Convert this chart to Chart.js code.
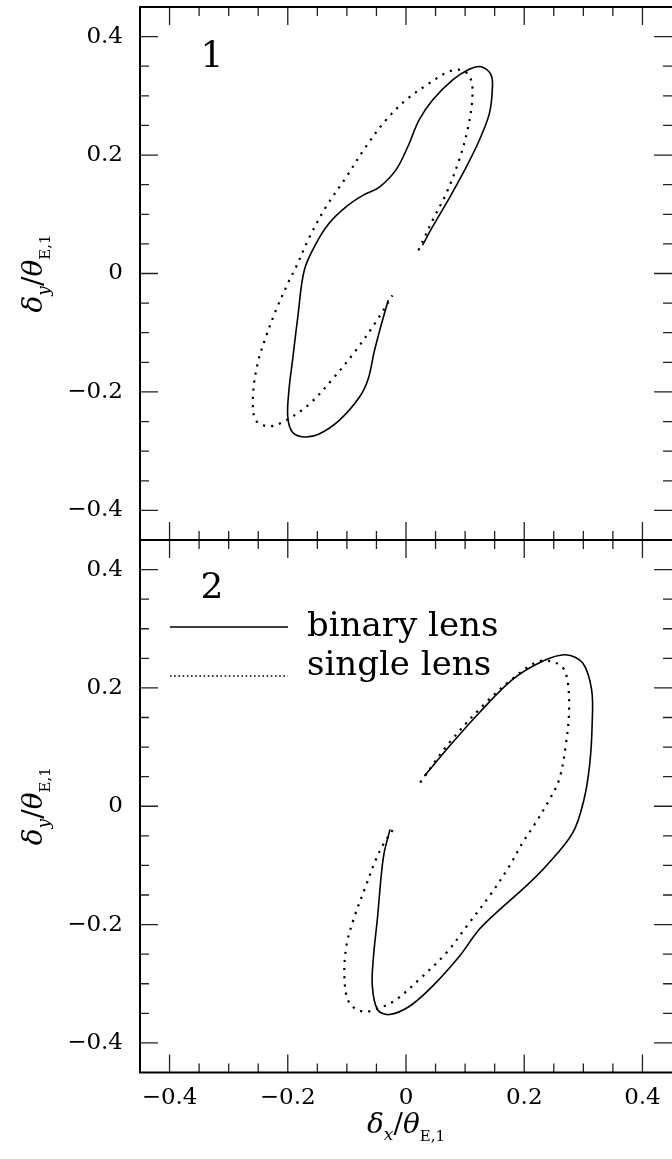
<!DOCTYPE html>
<html>
<head>
<meta charset="utf-8">
<script src="https://cdn.jsdelivr.net/npm/chart.js@4.4.1/dist/chart.umd.min.js"></script>
<style>
  html, body { margin: 0; padding: 0; background: #fff; overflow: hidden; }
  #wrap { position: relative; width: 672px; height: 1159px; }
  canvas { position: absolute; left: 0; }
  #panel1 { top: 0; }
  #panel2 { top: 535px; }
</style>
</head>
<body>
<div id="wrap">
  <canvas id="panel1" width="672" height="545"></canvas>
  <canvas id="panel2" width="672" height="624"></canvas>
</div>
<script>
// panel 1 : astrometric centroid shift, binary vs single lens
const binary1X = [0.028, 0.045, 0.073, 0.101, 0.124, 0.141, 0.146, 0.144, 0.127, 0.107, 0.079, 0.045, 0.022, 0.003, -0.017, -0.045, -0.073, -0.101, -0.130, -0.152, -0.172, -0.183, -0.192, -0.198, -0.200, -0.192, -0.172, -0.147, -0.113, -0.079, -0.064, -0.054, -0.042, -0.030];
const binary1Y = [0.048, 0.079, 0.127, 0.178, 0.225, 0.270, 0.310, 0.335, 0.349, 0.345, 0.327, 0.293, 0.259, 0.214, 0.175, 0.146, 0.132, 0.113, 0.085, 0.051, 0.006, -0.073, -0.147, -0.197, -0.242, -0.268, -0.276, -0.271, -0.248, -0.209, -0.178, -0.133, -0.087, -0.045];
const single1X = [0.021, 0.045, 0.068, 0.090, 0.104, 0.112, 0.110, 0.096, 0.073, 0.039, 0.000, -0.034, -0.068, -0.101, -0.135, -0.163, -0.186, -0.200, -0.220, -0.237, -0.251, -0.259, -0.254, -0.231, -0.203, -0.163, -0.124, -0.085, -0.051, -0.023];
const single1Y = [0.039, 0.090, 0.135, 0.192, 0.242, 0.293, 0.327, 0.343, 0.341, 0.321, 0.293, 0.259, 0.214, 0.163, 0.113, 0.062, 0.011, -0.017, -0.062, -0.107, -0.152, -0.209, -0.248, -0.258, -0.248, -0.220, -0.178, -0.130, -0.082, -0.037];

// panel 2
const binary2X = [0.031, 0.073, 0.124, 0.180, 0.231, 0.270, 0.299, 0.314, 0.315, 0.311, 0.301, 0.282, 0.237, 0.203, 0.158, 0.124, 0.090, 0.045, 0.006, -0.028, -0.048, -0.057, -0.055, -0.048, -0.042, -0.037, -0.027];
const binary2Y = [0.051, 0.101, 0.158, 0.214, 0.245, 0.256, 0.242, 0.197, 0.141, 0.073, 0.011, -0.045, -0.101, -0.135, -0.175, -0.208, -0.254, -0.304, -0.338, -0.352, -0.344, -0.304, -0.254, -0.186, -0.118, -0.079, -0.039];
const single2X = [0.024, 0.073, 0.135, 0.186, 0.225, 0.254, 0.270, 0.276, 0.270, 0.259, 0.242, 0.218, 0.197, 0.175, 0.141, 0.107, 0.068, 0.022, -0.017, -0.045, -0.073, -0.096, -0.104, -0.101, -0.087, -0.068, -0.051, -0.037, -0.021];
const single2Y = [0.040, 0.107, 0.175, 0.220, 0.245, 0.242, 0.226, 0.169, 0.101, 0.045, 0.010, -0.030, -0.062, -0.101, -0.152, -0.197, -0.248, -0.293, -0.327, -0.341, -0.347, -0.332, -0.293, -0.237, -0.186, -0.135, -0.090, -0.062, -0.038];

const majorTicks = [-0.4, -0.2, 0, 0.2, 0.4];
const minorStep = 0.05;
const legendLabels = ['binary lens', 'single lens'];

const SERIF = '"DejaVu Serif", "Liberation Serif", serif';

function pts(xs, ys) {
  return xs.map((x, i) => ({ x: x, y: ys[i] }));
}

function fmtTick(v) {
  if (Math.abs(v) < 1e-9) return '0';
  return (v < 0 ? '\u2212' : '') + Math.abs(v).toFixed(1);
}

// inward ticks on all four sides + frame
const frameTicks = {
  id: 'frameTicks',
  afterDatasetsDraw(chart) {
    const { ctx, chartArea: a, scales: { x, y } } = chart;
    ctx.save();
    ctx.strokeStyle = '#222';
    ctx.lineWidth = 1.3;
    ctx.beginPath();
    for (let k = -8; k <= 8; k++) {
      const v = k * minorStep;
      const major = majorTicks.some(m => Math.abs(m - v) < 1e-6);
      const len = major ? 18 : 9;
      const px = x.getPixelForValue(v);
      const py = y.getPixelForValue(v);
      ctx.moveTo(px, a.top); ctx.lineTo(px, a.top + len);
      ctx.moveTo(px, a.bottom); ctx.lineTo(px, a.bottom - len);
      ctx.moveTo(a.left, py); ctx.lineTo(a.left + len, py);
      ctx.moveTo(a.right, py); ctx.lineTo(a.right - len, py);
    }
    ctx.stroke();
    ctx.strokeStyle = '#000';
    ctx.lineWidth = 2;
    ctx.beginPath();
    ctx.moveTo(a.right + 2, a.top);
    ctx.lineTo(a.left, a.top);
    ctx.lineTo(a.left, a.bottom);
    ctx.lineTo(a.right + 2, a.bottom);
    ctx.stroke();
    ctx.restore();
  }
};

function drawAxisTitle(ctx, sub, cx, cy, rotate) {
  const parts = [
    { t: '\u03B4', f: 'italic 28px ' + SERIF, dy: 0 },
    { t: sub, f: 'italic 17px ' + SERIF, dy: 7 },
    { t: '/', f: '28px ' + SERIF, dy: 0 },
    { t: '\u03B8', f: 'italic 28px ' + SERIF, dy: 0 },
    { t: 'E,1', f: '15px ' + SERIF, dy: 8 }
  ];
  let total = 0;
  parts.forEach(p => { ctx.font = p.f; p.w = ctx.measureText(p.t).width; total += p.w; });
  ctx.save();
  ctx.translate(cx, cy);
  if (rotate) ctx.rotate(-Math.PI / 2);
  ctx.textAlign = 'left';
  ctx.textBaseline = 'alphabetic';
  let x = -total / 2;
  parts.forEach(p => { ctx.font = p.f; ctx.fillText(p.t, x, p.dy); x += p.w; });
  ctx.restore();
}

const panelText = {
  id: 'panelText',
  afterDraw(chart, args, o) {
    const ctx = chart.ctx, a = chart.chartArea;
    ctx.save();
    ctx.fillStyle = '#000';
    ctx.font = '36px ' + SERIF;
    ctx.textAlign = 'center';
    ctx.textBaseline = 'alphabetic';
    ctx.fillText(o.number, 212, o.numY);
    drawAxisTitle(ctx, 'y', 42, (a.top + a.bottom) / 2, true);
    if (o.xTitleY) drawAxisTitle(ctx, 'x', 406, o.xTitleY, false);
    if (o.legend) {
      const L = o.legend;
      ctx.strokeStyle = '#000';
      ctx.lineWidth = 1.4;
      ctx.beginPath(); ctx.moveTo(170, L.y1); ctx.lineTo(288, L.y1); ctx.stroke();
      ctx.lineWidth = 1.6;
      ctx.setLineDash([1.6, 2.6]);
      ctx.beginPath(); ctx.moveTo(170, L.y2); ctx.lineTo(288, L.y2); ctx.stroke();
      ctx.setLineDash([]);
      ctx.font = '34px ' + SERIF;
      ctx.textAlign = 'left';
      ctx.fillText(legendLabels[0], 307, L.t1);
      ctx.fillText(legendLabels[1], 307, L.t2);
    }
    ctx.restore();
  }
};

function makePanel(id, bx, by, sx, sy, isBottom, textOpts) {
  const tickFont = { family: SERIF, size: 23 };
  return new Chart(document.getElementById(id), {
    type: 'scatter',
    data: {
      datasets: [
        { label: legendLabels[0], data: pts(bx, by), showLine: true, borderColor: '#000', borderWidth: 1.6, pointRadius: 0, tension: 0.35, fill: false },
        { label: legendLabels[1], data: pts(sx, sy), showLine: true, borderColor: '#000', borderWidth: 2.2, borderDash: [2.2, 6], borderCapStyle: 'butt', pointRadius: 0, tension: 0.35, fill: false }
      ]
    },
    options: {
      responsive: false,
      animation: false,
      devicePixelRatio: 1,
      layout: { padding: isBottom ? { top: 5, right: 0, bottom: 0, left: 0 } : { top: 7, right: 0, bottom: 5, left: 0 } },
      plugins: { legend: { display: false }, tooltip: { enabled: false }, panelText: textOpts },
      scales: {
        x: {
          type: 'linear', min: -0.45, max: 0.45,
          display: isBottom,
          grid: { display: false, drawTicks: false },
          border: { display: false },
          ticks: { font: tickFont, color: '#000', padding: 12, maxRotation: 0, autoSkip: false, callback: fmtTick },
          afterBuildTicks: s => { s.ticks = majorTicks.map(v => ({ value: v })); },
          afterFit: s => {
            s.height = isBottom ? 86.5 : 0;
            s.paddingLeft = 0; s.paddingRight = 0;
          }
        },
        y: {
          type: 'linear', min: -0.45, max: 0.45,
          grid: { display: false, drawTicks: false },
          border: { display: false },
          ticks: { font: tickFont, color: '#000', padding: 17, autoSkip: false, callback: fmtTick },
          afterBuildTicks: s => { s.ticks = majorTicks.map(v => ({ value: v })); },
          afterFit: s => {
            s.width = 140;
            s.paddingTop = 0; s.paddingBottom = 0;
          }
        }
      }
    },
    plugins: [frameTicks, panelText]
  });
}

makePanel('panel1', binary1X, binary1Y, single1X, single1Y, false, { number: '1', numY: 67 });
makePanel('panel2', binary2X, binary2Y, single2X, single2Y, true, {
  number: '2', numY: 63, xTitleY: 598,
  legend: { y1: 92, y2: 141, t1: 101, t2: 140 }
});
</script>
</body>
</html>
